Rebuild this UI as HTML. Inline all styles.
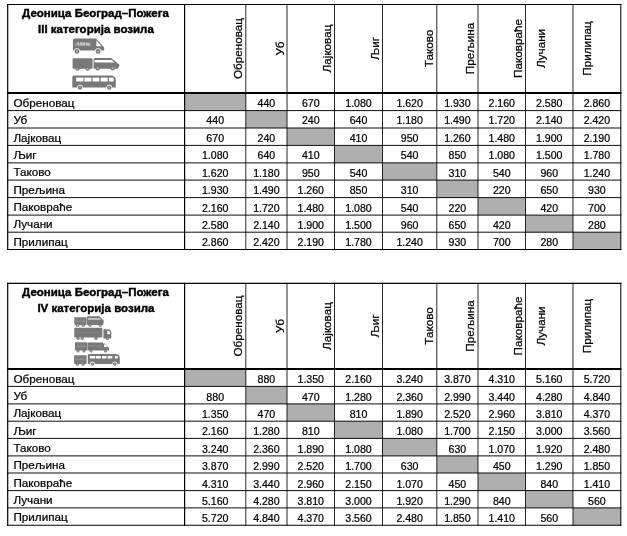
<!DOCTYPE html>
<html><head><meta charset="utf-8"><title>Деоница Београд–Пожега</title>
<style>
html,body{margin:0;padding:0;background:#fff;width:627px;height:536px;overflow:hidden}
svg{display:block}
text{font-family:"Liberation Sans",Arial,sans-serif;fill:#000;stroke:#000;stroke-width:0.22px}
text.l{font-size:11.1px}
text.n{font-size:10.6px}
text.b{font-size:11.0px;font-weight:700;stroke-width:0.4px}
</style></head><body>
<svg width="627" height="536" viewBox="0 0 627 536">
<rect width="627" height="536" fill="#fff"/>
<rect x="184.6" y="93" width="61.2" height="17.6" fill="#afafaf"/>
<rect x="245.8" y="110.6" width="41.2" height="17.4" fill="#afafaf"/>
<rect x="287" y="128" width="47.5" height="17.4" fill="#afafaf"/>
<rect x="334.5" y="145.4" width="48" height="17.5" fill="#afafaf"/>
<rect x="382.5" y="162.9" width="54.3" height="17.2" fill="#afafaf"/>
<rect x="436.8" y="180.1" width="41.2" height="17.5" fill="#afafaf"/>
<rect x="478" y="197.6" width="47.5" height="17.5" fill="#afafaf"/>
<rect x="525.5" y="215.1" width="47.5" height="17.1" fill="#afafaf"/>
<rect x="573" y="232.2" width="47.8" height="17.3" fill="#afafaf"/>
<line x1="7.1" y1="4.5" x2="621.4" y2="4.5" stroke="#000" stroke-width="1.1"/>
<line x1="7.1" y1="93" x2="621.4" y2="93" stroke="#000" stroke-width="2"/>
<line x1="7.1" y1="110.6" x2="621.4" y2="110.6" stroke="#000" stroke-width="0.95"/>
<line x1="7.1" y1="128" x2="621.4" y2="128" stroke="#000" stroke-width="0.95"/>
<line x1="7.1" y1="145.4" x2="621.4" y2="145.4" stroke="#000" stroke-width="0.95"/>
<line x1="7.1" y1="162.9" x2="621.4" y2="162.9" stroke="#000" stroke-width="0.95"/>
<line x1="7.1" y1="180.1" x2="621.4" y2="180.1" stroke="#000" stroke-width="0.95"/>
<line x1="7.1" y1="197.6" x2="621.4" y2="197.6" stroke="#000" stroke-width="0.95"/>
<line x1="7.1" y1="215.1" x2="621.4" y2="215.1" stroke="#000" stroke-width="0.95"/>
<line x1="7.1" y1="232.2" x2="621.4" y2="232.2" stroke="#000" stroke-width="0.95"/>
<line x1="7.1" y1="249.5" x2="621.4" y2="249.5" stroke="#000" stroke-width="1.1"/>
<line x1="7.7" y1="3.9" x2="7.7" y2="250.1" stroke="#000" stroke-width="1.2"/>
<line x1="184.6" y1="3.9" x2="184.6" y2="250.1" stroke="#000" stroke-width="1.2"/>
<line x1="245.8" y1="3.9" x2="245.8" y2="250.1" stroke="#000" stroke-width="0.85"/>
<line x1="287" y1="3.9" x2="287" y2="250.1" stroke="#000" stroke-width="0.85"/>
<line x1="334.5" y1="3.9" x2="334.5" y2="250.1" stroke="#000" stroke-width="0.85"/>
<line x1="382.5" y1="3.9" x2="382.5" y2="250.1" stroke="#000" stroke-width="0.85"/>
<line x1="436.8" y1="3.9" x2="436.8" y2="250.1" stroke="#000" stroke-width="0.85"/>
<line x1="478" y1="3.9" x2="478" y2="250.1" stroke="#000" stroke-width="0.85"/>
<line x1="525.5" y1="3.9" x2="525.5" y2="250.1" stroke="#000" stroke-width="0.85"/>
<line x1="573" y1="3.9" x2="573" y2="250.1" stroke="#000" stroke-width="0.85"/>
<line x1="620.8" y1="3.9" x2="620.8" y2="250.1" stroke="#000" stroke-width="1.0"/>
<text class="b" transform="translate(95.5,17.2) scale(1.045,1)" text-anchor="middle">Деоница Београд–Пожега</text>
<text class="b" transform="translate(95.9,33) scale(1.045,1)" text-anchor="middle">III категорија возила</text>
<g>
<path d="M72.9 40.2 Q72.9 38.6 74.5 38.6 L95.3 38.6 Q96 38.6 96.6 39.2 L103.4 46.4 Q104.2 47.2 104.2 48.4 L104.2 50 Q104.2 50.6 103.6 50.6 L72.9 50.6 Z" fill="#787878"/>
<path d="M96.4 40.5 L101.6 46.3 L96.4 46.3 Z" fill="#fff"/>
<rect x="75.3" y="42.8" width="15.8" height="3.2" fill="#9a9a9a"/>
<text x="83.2" y="45.3" text-anchor="middle" style="font-size:3.2px;fill:#fff;stroke:none">3.500 kg</text>
<circle cx="77" cy="51.4" r="3.1" fill="#fff"/><circle cx="77" cy="51.4" r="2.4" fill="#787878"/><circle cx="77" cy="51.4" r="0.96" fill="#b8b8b8"/><circle cx="98.1" cy="51.4" r="3.1" fill="#fff"/><circle cx="98.1" cy="51.4" r="2.4" fill="#787878"/><circle cx="98.1" cy="51.4" r="0.96" fill="#b8b8b8"/>
<rect x="72.6" y="58.3" width="20" height="10.4" rx="1.2" fill="#787878"/>
<path d="M93.6 68.8 L93.6 59.2 Q93.6 58 94.8 58 L111.1 58 L119.3 64.6 Q119.8 65.2 119.3 66 L117.8 68.8 Z" fill="#787878"/>
<path d="M94.5 60 L111.6 60 L114.6 62.6 L94.5 62.6 Z" fill="#fff"/>
<circle cx="77.5" cy="68.6" r="2.2" fill="#787878"/><circle cx="77.5" cy="68.6" r="0.88" fill="#b8b8b8"/><circle cx="87.6" cy="68.6" r="2.2" fill="#787878"/><circle cx="87.6" cy="68.6" r="0.88" fill="#b8b8b8"/><circle cx="97.7" cy="68.2" r="2.2" fill="#787878"/><circle cx="97.7" cy="68.2" r="0.88" fill="#b8b8b8"/><circle cx="112.6" cy="68.2" r="2.2" fill="#787878"/><circle cx="112.6" cy="68.2" r="0.88" fill="#b8b8b8"/>
<path d="M72.3 77 Q72.3 75.4 74 75.4 L111.5 75.4 Q115.8 75.6 115.8 80.5 L115.8 87.4 L72.3 87.4 Z" fill="#787878"/>
<rect x="76.2" y="77.6" width="7.3" height="3.9" fill="#fff"/>
<rect x="84.4" y="77.6" width="6.9" height="3.9" fill="#fff"/>
<rect x="92.5" y="77.6" width="6.9" height="3.9" fill="#fff"/>
<rect x="100.7" y="77.6" width="6.9" height="3.9" fill="#fff"/>
<rect x="108.9" y="77.6" width="4.7" height="3.9" fill="#fff"/>
<circle cx="80" cy="87.6" r="2.9" fill="#fff"/><circle cx="80" cy="87.6" r="2.2" fill="#787878"/><circle cx="80" cy="87.6" r="0.88" fill="#b8b8b8"/><circle cx="109.3" cy="87.6" r="2.9" fill="#fff"/><circle cx="109.3" cy="87.6" r="2.2" fill="#787878"/><circle cx="109.3" cy="87.6" r="0.88" fill="#b8b8b8"/>
</g>
<text class="l" transform="translate(242.2,48.5) rotate(-90) scale(1.055,1)" x="0" y="0" text-anchor="middle">Обреновац</text>
<text class="l" transform="translate(283.7,48.5) rotate(-90) scale(1.055,1)" x="0" y="0" text-anchor="middle">Уб</text>
<text class="l" transform="translate(331,48.5) rotate(-90) scale(1.055,1)" x="0" y="0" text-anchor="middle">Лајковац</text>
<text class="l" transform="translate(378.8,48.5) rotate(-90) scale(1.055,1)" x="0" y="0" text-anchor="middle">Љиг</text>
<text class="l" transform="translate(433,48.5) rotate(-90) scale(1.055,1)" x="0" y="0" text-anchor="middle">Таково</text>
<text class="l" transform="translate(474.2,48.5) rotate(-90) scale(1.055,1)" x="0" y="0" text-anchor="middle">Прељина</text>
<text class="l" transform="translate(522,48.5) rotate(-90) scale(1.055,1)" x="0" y="0" text-anchor="middle">Паковраће</text>
<text class="l" transform="translate(544.7,48.5) rotate(-90) scale(1.055,1)" x="0" y="0" text-anchor="middle">Лучани</text>
<text class="l" transform="translate(590.9,48.5) rotate(-90) scale(1.055,1)" x="0" y="0" text-anchor="middle">Прилипац</text>
<text class="l" transform="translate(13.4,106.75) scale(1.055,1)">Обреновац</text>
<text class="n" x="266.4" y="107" text-anchor="middle">440</text>
<text class="n" x="310.75" y="107" text-anchor="middle">670</text>
<text class="n" x="358.5" y="107" text-anchor="middle">1.080</text>
<text class="n" x="409.65" y="107" text-anchor="middle">1.620</text>
<text class="n" x="457.4" y="107" text-anchor="middle">1.930</text>
<text class="n" x="501.75" y="107" text-anchor="middle">2.160</text>
<text class="n" x="549.25" y="107" text-anchor="middle">2.580</text>
<text class="n" x="596.9" y="107" text-anchor="middle">2.860</text>
<text class="l" transform="translate(13.4,124.15) scale(1.055,1)">Уб</text>
<text class="n" x="215.2" y="124.4" text-anchor="middle">440</text>
<text class="n" x="310.75" y="124.4" text-anchor="middle">240</text>
<text class="n" x="358.5" y="124.4" text-anchor="middle">640</text>
<text class="n" x="409.65" y="124.4" text-anchor="middle">1.180</text>
<text class="n" x="457.4" y="124.4" text-anchor="middle">1.490</text>
<text class="n" x="501.75" y="124.4" text-anchor="middle">1.720</text>
<text class="n" x="549.25" y="124.4" text-anchor="middle">2.140</text>
<text class="n" x="596.9" y="124.4" text-anchor="middle">2.420</text>
<text class="l" transform="translate(13.4,141.55) scale(1.055,1)">Лајковац</text>
<text class="n" x="215.2" y="141.8" text-anchor="middle">670</text>
<text class="n" x="266.4" y="141.8" text-anchor="middle">240</text>
<text class="n" x="358.5" y="141.8" text-anchor="middle">410</text>
<text class="n" x="409.65" y="141.8" text-anchor="middle">950</text>
<text class="n" x="457.4" y="141.8" text-anchor="middle">1.260</text>
<text class="n" x="501.75" y="141.8" text-anchor="middle">1.480</text>
<text class="n" x="549.25" y="141.8" text-anchor="middle">1.900</text>
<text class="n" x="596.9" y="141.8" text-anchor="middle">2.190</text>
<text class="l" transform="translate(13.4,159.05) scale(1.055,1)">Љиг</text>
<text class="n" x="215.2" y="159.3" text-anchor="middle">1.080</text>
<text class="n" x="266.4" y="159.3" text-anchor="middle">640</text>
<text class="n" x="310.75" y="159.3" text-anchor="middle">410</text>
<text class="n" x="409.65" y="159.3" text-anchor="middle">540</text>
<text class="n" x="457.4" y="159.3" text-anchor="middle">850</text>
<text class="n" x="501.75" y="159.3" text-anchor="middle">1.080</text>
<text class="n" x="549.25" y="159.3" text-anchor="middle">1.500</text>
<text class="n" x="596.9" y="159.3" text-anchor="middle">1.780</text>
<text class="l" transform="translate(13.4,176.25) scale(1.055,1)">Таково</text>
<text class="n" x="215.2" y="176.5" text-anchor="middle">1.620</text>
<text class="n" x="266.4" y="176.5" text-anchor="middle">1.180</text>
<text class="n" x="310.75" y="176.5" text-anchor="middle">950</text>
<text class="n" x="358.5" y="176.5" text-anchor="middle">540</text>
<text class="n" x="457.4" y="176.5" text-anchor="middle">310</text>
<text class="n" x="501.75" y="176.5" text-anchor="middle">540</text>
<text class="n" x="549.25" y="176.5" text-anchor="middle">960</text>
<text class="n" x="596.9" y="176.5" text-anchor="middle">1.240</text>
<text class="l" transform="translate(13.4,193.75) scale(1.055,1)">Прељина</text>
<text class="n" x="215.2" y="194" text-anchor="middle">1.930</text>
<text class="n" x="266.4" y="194" text-anchor="middle">1.490</text>
<text class="n" x="310.75" y="194" text-anchor="middle">1.260</text>
<text class="n" x="358.5" y="194" text-anchor="middle">850</text>
<text class="n" x="409.65" y="194" text-anchor="middle">310</text>
<text class="n" x="501.75" y="194" text-anchor="middle">220</text>
<text class="n" x="549.25" y="194" text-anchor="middle">650</text>
<text class="n" x="596.9" y="194" text-anchor="middle">930</text>
<text class="l" transform="translate(13.4,211.25) scale(1.055,1)">Паковраће</text>
<text class="n" x="215.2" y="211.5" text-anchor="middle">2.160</text>
<text class="n" x="266.4" y="211.5" text-anchor="middle">1.720</text>
<text class="n" x="310.75" y="211.5" text-anchor="middle">1.480</text>
<text class="n" x="358.5" y="211.5" text-anchor="middle">1.080</text>
<text class="n" x="409.65" y="211.5" text-anchor="middle">540</text>
<text class="n" x="457.4" y="211.5" text-anchor="middle">220</text>
<text class="n" x="549.25" y="211.5" text-anchor="middle">420</text>
<text class="n" x="596.9" y="211.5" text-anchor="middle">700</text>
<text class="l" transform="translate(13.4,228.35) scale(1.055,1)">Лучани</text>
<text class="n" x="215.2" y="228.6" text-anchor="middle">2.580</text>
<text class="n" x="266.4" y="228.6" text-anchor="middle">2.140</text>
<text class="n" x="310.75" y="228.6" text-anchor="middle">1.900</text>
<text class="n" x="358.5" y="228.6" text-anchor="middle">1.500</text>
<text class="n" x="409.65" y="228.6" text-anchor="middle">960</text>
<text class="n" x="457.4" y="228.6" text-anchor="middle">650</text>
<text class="n" x="501.75" y="228.6" text-anchor="middle">420</text>
<text class="n" x="596.9" y="228.6" text-anchor="middle">280</text>
<text class="l" transform="translate(13.4,245.65) scale(1.055,1)">Прилипац</text>
<text class="n" x="215.2" y="245.9" text-anchor="middle">2.860</text>
<text class="n" x="266.4" y="245.9" text-anchor="middle">2.420</text>
<text class="n" x="310.75" y="245.9" text-anchor="middle">2.190</text>
<text class="n" x="358.5" y="245.9" text-anchor="middle">1.780</text>
<text class="n" x="409.65" y="245.9" text-anchor="middle">1.240</text>
<text class="n" x="457.4" y="245.9" text-anchor="middle">930</text>
<text class="n" x="501.75" y="245.9" text-anchor="middle">700</text>
<text class="n" x="549.25" y="245.9" text-anchor="middle">280</text>
<rect x="184.6" y="369" width="61.2" height="17.4" fill="#afafaf"/>
<rect x="245.8" y="386.4" width="41.2" height="17.5" fill="#afafaf"/>
<rect x="287" y="403.9" width="47.5" height="17.3" fill="#afafaf"/>
<rect x="334.5" y="421.2" width="48" height="17.2" fill="#afafaf"/>
<rect x="382.5" y="438.4" width="54.3" height="17.5" fill="#afafaf"/>
<rect x="436.8" y="455.9" width="41.2" height="17.1" fill="#afafaf"/>
<rect x="478" y="473" width="47.5" height="17.6" fill="#afafaf"/>
<rect x="525.5" y="490.6" width="47.5" height="17.3" fill="#afafaf"/>
<rect x="573" y="507.9" width="47.8" height="17.4" fill="#afafaf"/>
<line x1="7.1" y1="283.4" x2="621.4" y2="283.4" stroke="#000" stroke-width="1.1"/>
<line x1="7.1" y1="369" x2="621.4" y2="369" stroke="#000" stroke-width="2"/>
<line x1="7.1" y1="386.4" x2="621.4" y2="386.4" stroke="#000" stroke-width="0.95"/>
<line x1="7.1" y1="403.9" x2="621.4" y2="403.9" stroke="#000" stroke-width="0.95"/>
<line x1="7.1" y1="421.2" x2="621.4" y2="421.2" stroke="#000" stroke-width="0.95"/>
<line x1="7.1" y1="438.4" x2="621.4" y2="438.4" stroke="#000" stroke-width="0.95"/>
<line x1="7.1" y1="455.9" x2="621.4" y2="455.9" stroke="#000" stroke-width="0.95"/>
<line x1="7.1" y1="473" x2="621.4" y2="473" stroke="#000" stroke-width="0.95"/>
<line x1="7.1" y1="490.6" x2="621.4" y2="490.6" stroke="#000" stroke-width="0.95"/>
<line x1="7.1" y1="507.9" x2="621.4" y2="507.9" stroke="#000" stroke-width="0.95"/>
<line x1="7.1" y1="525.3" x2="621.4" y2="525.3" stroke="#000" stroke-width="1.1"/>
<line x1="7.7" y1="282.8" x2="7.7" y2="525.9" stroke="#000" stroke-width="1.2"/>
<line x1="184.6" y1="282.8" x2="184.6" y2="525.9" stroke="#000" stroke-width="1.2"/>
<line x1="245.8" y1="282.8" x2="245.8" y2="525.9" stroke="#000" stroke-width="0.85"/>
<line x1="287" y1="282.8" x2="287" y2="525.9" stroke="#000" stroke-width="0.85"/>
<line x1="334.5" y1="282.8" x2="334.5" y2="525.9" stroke="#000" stroke-width="0.85"/>
<line x1="382.5" y1="282.8" x2="382.5" y2="525.9" stroke="#000" stroke-width="0.85"/>
<line x1="436.8" y1="282.8" x2="436.8" y2="525.9" stroke="#000" stroke-width="0.85"/>
<line x1="478" y1="282.8" x2="478" y2="525.9" stroke="#000" stroke-width="0.85"/>
<line x1="525.5" y1="282.8" x2="525.5" y2="525.9" stroke="#000" stroke-width="0.85"/>
<line x1="573" y1="282.8" x2="573" y2="525.9" stroke="#000" stroke-width="0.85"/>
<line x1="620.8" y1="282.8" x2="620.8" y2="525.9" stroke="#000" stroke-width="1.0"/>
<text class="b" transform="translate(95.5,296.1) scale(1.045,1)" text-anchor="middle">Деоница Београд–Пожега</text>
<text class="b" transform="translate(95.9,311.9) scale(1.045,1)" text-anchor="middle">IV категорија возила</text>
<g>
<rect x="74.3" y="317.3" width="12.2" height="7.6" rx="0.8" fill="#787878"/><rect x="77.05" y="318.3" width="0.6" height="5.1" fill="#949494"/><rect x="80.1" y="318.3" width="0.6" height="5.1" fill="#949494"/><rect x="83.15" y="318.3" width="0.6" height="5.1" fill="#949494"/><rect x="75.1" y="320.8" width="10.6" height="0.6" fill="#999"/>
<path d="M86.9 324.9 L86.9 317 Q86.9 316.2 88 316.2 L99.4 316.2 L103.5 320.3 Q103.9 320.8 103.7 321.6 L103.2 324.9 Z" fill="#787878"/>
<path d="M88 317.9 L99.8 317.9 L101.5 319.8 L88 319.8 Z" fill="#c8c8c8"/>
<circle cx="77.5" cy="325.2" r="1.5" fill="#787878"/><circle cx="77.5" cy="325.2" r="0.6" fill="#b8b8b8"/><circle cx="83.2" cy="325.2" r="1.5" fill="#787878"/><circle cx="83.2" cy="325.2" r="0.6" fill="#b8b8b8"/><circle cx="90" cy="325.2" r="1.5" fill="#787878"/><circle cx="90" cy="325.2" r="0.6" fill="#b8b8b8"/><circle cx="100.2" cy="325.2" r="1.5" fill="#787878"/><circle cx="100.2" cy="325.2" r="0.6" fill="#b8b8b8"/>
<rect x="74.3" y="327.7" width="28" height="9.8" rx="0.8" fill="#787878"/><rect x="75.5" y="332.3" width="25.6" height="0.5" fill="#8a8a8a"/>
<path d="M103.4 338.5 L103.4 329.8 Q103.4 329.2 104 329.2 L108.5 329.2 Q111.3 329.8 111.3 333 L111.3 338.5 Z" fill="#787878"/>
<path d="M107.3 330.5 L109.8 331.5 L109.8 334.2 L107.3 334.2 Z" fill="#fff"/>
<circle cx="78" cy="338.3" r="1.6" fill="#787878"/><circle cx="78" cy="338.3" r="0.64" fill="#b8b8b8"/><circle cx="82.3" cy="338.3" r="1.6" fill="#787878"/><circle cx="82.3" cy="338.3" r="0.64" fill="#b8b8b8"/><circle cx="96" cy="338.3" r="1.6" fill="#787878"/><circle cx="96" cy="338.3" r="0.64" fill="#b8b8b8"/><circle cx="107.3" cy="338.6" r="1.6" fill="#787878"/><circle cx="107.3" cy="338.6" r="0.64" fill="#b8b8b8"/>
<rect x="75" y="342.3" width="12" height="8.3" rx="0.8" fill="#787878"/><rect x="77.7" y="343.3" width="0.6" height="5.8" fill="#949494"/><rect x="80.7" y="343.3" width="0.6" height="5.8" fill="#949494"/><rect x="83.7" y="343.3" width="0.6" height="5.8" fill="#949494"/><rect x="75.8" y="346.15" width="10.4" height="0.6" fill="#999"/>
<path d="M87.4 350.6 L87.4 342.5 L103 342.5 L103 343.6 L105 343.6 L109 348 L109 350.6 Z" fill="#787878"/>
<path d="M104 344.5 L105.9 344.5 L107.8 347 L104 347 Z" fill="#fff"/>
<rect x="88.5" y="345.6" width="13" height="0.6" fill="#999"/>
<circle cx="78" cy="351" r="1.5" fill="#787878"/><circle cx="78" cy="351" r="0.6" fill="#b8b8b8"/><circle cx="84" cy="351" r="1.5" fill="#787878"/><circle cx="84" cy="351" r="0.6" fill="#b8b8b8"/><circle cx="91" cy="351" r="1.5" fill="#787878"/><circle cx="91" cy="351" r="0.6" fill="#b8b8b8"/><circle cx="105.5" cy="351" r="1.5" fill="#787878"/><circle cx="105.5" cy="351" r="0.6" fill="#b8b8b8"/>
<rect x="74.1" y="355.2" width="12.5" height="8.7" rx="0.8" fill="#787878"/><rect x="76.92" y="356.2" width="0.6" height="6.2" fill="#949494"/><rect x="80.05" y="356.2" width="0.6" height="6.2" fill="#949494"/><rect x="83.17" y="356.2" width="0.6" height="6.2" fill="#949494"/><rect x="74.9" y="359.25" width="10.9" height="0.6" fill="#999"/>
<path d="M87.8 355 Q87.8 353.9 89 353.9 L116 353.9 Q119.8 354.4 119.8 358 L119.8 363.9 L87.8 363.9 Z" fill="#787878"/>
<rect x="89.9" y="356" width="5" height="2.5" fill="#fff"/>
<rect x="95.7" y="356" width="5" height="2.5" fill="#fff"/>
<rect x="101.9" y="356" width="4.6" height="2.5" fill="#fff"/>
<rect x="107.7" y="356" width="4.6" height="2.5" fill="#fff"/>
<rect x="114.8" y="356" width="2.9" height="2.5" fill="#fff"/>
<circle cx="77.5" cy="364.2" r="1.6" fill="#787878"/><circle cx="77.5" cy="364.2" r="0.64" fill="#b8b8b8"/><circle cx="83" cy="364.2" r="1.6" fill="#787878"/><circle cx="83" cy="364.2" r="0.64" fill="#b8b8b8"/><circle cx="92.4" cy="364" r="2.5" fill="#fff"/><circle cx="92.4" cy="364" r="1.8" fill="#787878"/><circle cx="92.4" cy="364" r="0.72" fill="#b8b8b8"/><circle cx="114.8" cy="364" r="2.5" fill="#fff"/><circle cx="114.8" cy="364" r="1.8" fill="#787878"/><circle cx="114.8" cy="364" r="0.72" fill="#b8b8b8"/>
</g>
<text class="l" transform="translate(242.2,326) rotate(-90) scale(1.055,1)" x="0" y="0" text-anchor="middle">Обреновац</text>
<text class="l" transform="translate(283.7,326) rotate(-90) scale(1.055,1)" x="0" y="0" text-anchor="middle">Уб</text>
<text class="l" transform="translate(331,326) rotate(-90) scale(1.055,1)" x="0" y="0" text-anchor="middle">Лајковац</text>
<text class="l" transform="translate(378.8,326) rotate(-90) scale(1.055,1)" x="0" y="0" text-anchor="middle">Љиг</text>
<text class="l" transform="translate(433,326) rotate(-90) scale(1.055,1)" x="0" y="0" text-anchor="middle">Таково</text>
<text class="l" transform="translate(474.2,326) rotate(-90) scale(1.055,1)" x="0" y="0" text-anchor="middle">Прељина</text>
<text class="l" transform="translate(522,326) rotate(-90) scale(1.055,1)" x="0" y="0" text-anchor="middle">Паковраће</text>
<text class="l" transform="translate(544.7,326) rotate(-90) scale(1.055,1)" x="0" y="0" text-anchor="middle">Лучани</text>
<text class="l" transform="translate(590.9,326) rotate(-90) scale(1.055,1)" x="0" y="0" text-anchor="middle">Прилипац</text>
<text class="l" transform="translate(13.4,382.55) scale(1.055,1)">Обреновац</text>
<text class="n" x="266.4" y="383.35" text-anchor="middle">880</text>
<text class="n" x="310.75" y="383.35" text-anchor="middle">1.350</text>
<text class="n" x="358.5" y="383.35" text-anchor="middle">2.160</text>
<text class="n" x="409.65" y="383.35" text-anchor="middle">3.240</text>
<text class="n" x="457.4" y="383.35" text-anchor="middle">3.870</text>
<text class="n" x="501.75" y="383.35" text-anchor="middle">4.310</text>
<text class="n" x="549.25" y="383.35" text-anchor="middle">5.160</text>
<text class="n" x="596.9" y="383.35" text-anchor="middle">5.720</text>
<text class="l" transform="translate(13.4,400.05) scale(1.055,1)">Уб</text>
<text class="n" x="215.2" y="400.85" text-anchor="middle">880</text>
<text class="n" x="310.75" y="400.85" text-anchor="middle">470</text>
<text class="n" x="358.5" y="400.85" text-anchor="middle">1.280</text>
<text class="n" x="409.65" y="400.85" text-anchor="middle">2.360</text>
<text class="n" x="457.4" y="400.85" text-anchor="middle">2.990</text>
<text class="n" x="501.75" y="400.85" text-anchor="middle">3.440</text>
<text class="n" x="549.25" y="400.85" text-anchor="middle">4.280</text>
<text class="n" x="596.9" y="400.85" text-anchor="middle">4.840</text>
<text class="l" transform="translate(13.4,417.35) scale(1.055,1)">Лајковац</text>
<text class="n" x="215.2" y="418.15" text-anchor="middle">1.350</text>
<text class="n" x="266.4" y="418.15" text-anchor="middle">470</text>
<text class="n" x="358.5" y="418.15" text-anchor="middle">810</text>
<text class="n" x="409.65" y="418.15" text-anchor="middle">1.890</text>
<text class="n" x="457.4" y="418.15" text-anchor="middle">2.520</text>
<text class="n" x="501.75" y="418.15" text-anchor="middle">2.960</text>
<text class="n" x="549.25" y="418.15" text-anchor="middle">3.810</text>
<text class="n" x="596.9" y="418.15" text-anchor="middle">4.370</text>
<text class="l" transform="translate(13.4,434.55) scale(1.055,1)">Љиг</text>
<text class="n" x="215.2" y="435.35" text-anchor="middle">2.160</text>
<text class="n" x="266.4" y="435.35" text-anchor="middle">1.280</text>
<text class="n" x="310.75" y="435.35" text-anchor="middle">810</text>
<text class="n" x="409.65" y="435.35" text-anchor="middle">1.080</text>
<text class="n" x="457.4" y="435.35" text-anchor="middle">1.700</text>
<text class="n" x="501.75" y="435.35" text-anchor="middle">2.150</text>
<text class="n" x="549.25" y="435.35" text-anchor="middle">3.000</text>
<text class="n" x="596.9" y="435.35" text-anchor="middle">3.560</text>
<text class="l" transform="translate(13.4,452.05) scale(1.055,1)">Таково</text>
<text class="n" x="215.2" y="452.85" text-anchor="middle">3.240</text>
<text class="n" x="266.4" y="452.85" text-anchor="middle">2.360</text>
<text class="n" x="310.75" y="452.85" text-anchor="middle">1.890</text>
<text class="n" x="358.5" y="452.85" text-anchor="middle">1.080</text>
<text class="n" x="457.4" y="452.85" text-anchor="middle">630</text>
<text class="n" x="501.75" y="452.85" text-anchor="middle">1.070</text>
<text class="n" x="549.25" y="452.85" text-anchor="middle">1.920</text>
<text class="n" x="596.9" y="452.85" text-anchor="middle">2.480</text>
<text class="l" transform="translate(13.4,469.15) scale(1.055,1)">Прељина</text>
<text class="n" x="215.2" y="469.95" text-anchor="middle">3.870</text>
<text class="n" x="266.4" y="469.95" text-anchor="middle">2.990</text>
<text class="n" x="310.75" y="469.95" text-anchor="middle">2.520</text>
<text class="n" x="358.5" y="469.95" text-anchor="middle">1.700</text>
<text class="n" x="409.65" y="469.95" text-anchor="middle">630</text>
<text class="n" x="501.75" y="469.95" text-anchor="middle">450</text>
<text class="n" x="549.25" y="469.95" text-anchor="middle">1.290</text>
<text class="n" x="596.9" y="469.95" text-anchor="middle">1.850</text>
<text class="l" transform="translate(13.4,486.75) scale(1.055,1)">Паковраће</text>
<text class="n" x="215.2" y="487.55" text-anchor="middle">4.310</text>
<text class="n" x="266.4" y="487.55" text-anchor="middle">3.440</text>
<text class="n" x="310.75" y="487.55" text-anchor="middle">2.960</text>
<text class="n" x="358.5" y="487.55" text-anchor="middle">2.150</text>
<text class="n" x="409.65" y="487.55" text-anchor="middle">1.070</text>
<text class="n" x="457.4" y="487.55" text-anchor="middle">450</text>
<text class="n" x="549.25" y="487.55" text-anchor="middle">840</text>
<text class="n" x="596.9" y="487.55" text-anchor="middle">1.410</text>
<text class="l" transform="translate(13.4,504.05) scale(1.055,1)">Лучани</text>
<text class="n" x="215.2" y="504.85" text-anchor="middle">5.160</text>
<text class="n" x="266.4" y="504.85" text-anchor="middle">4.280</text>
<text class="n" x="310.75" y="504.85" text-anchor="middle">3.810</text>
<text class="n" x="358.5" y="504.85" text-anchor="middle">3.000</text>
<text class="n" x="409.65" y="504.85" text-anchor="middle">1.920</text>
<text class="n" x="457.4" y="504.85" text-anchor="middle">1.290</text>
<text class="n" x="501.75" y="504.85" text-anchor="middle">840</text>
<text class="n" x="596.9" y="504.85" text-anchor="middle">560</text>
<text class="l" transform="translate(13.4,521.45) scale(1.055,1)">Прилипац</text>
<text class="n" x="215.2" y="522.25" text-anchor="middle">5.720</text>
<text class="n" x="266.4" y="522.25" text-anchor="middle">4.840</text>
<text class="n" x="310.75" y="522.25" text-anchor="middle">4.370</text>
<text class="n" x="358.5" y="522.25" text-anchor="middle">3.560</text>
<text class="n" x="409.65" y="522.25" text-anchor="middle">2.480</text>
<text class="n" x="457.4" y="522.25" text-anchor="middle">1.850</text>
<text class="n" x="501.75" y="522.25" text-anchor="middle">1.410</text>
<text class="n" x="549.25" y="522.25" text-anchor="middle">560</text>
</svg>
</body></html>
